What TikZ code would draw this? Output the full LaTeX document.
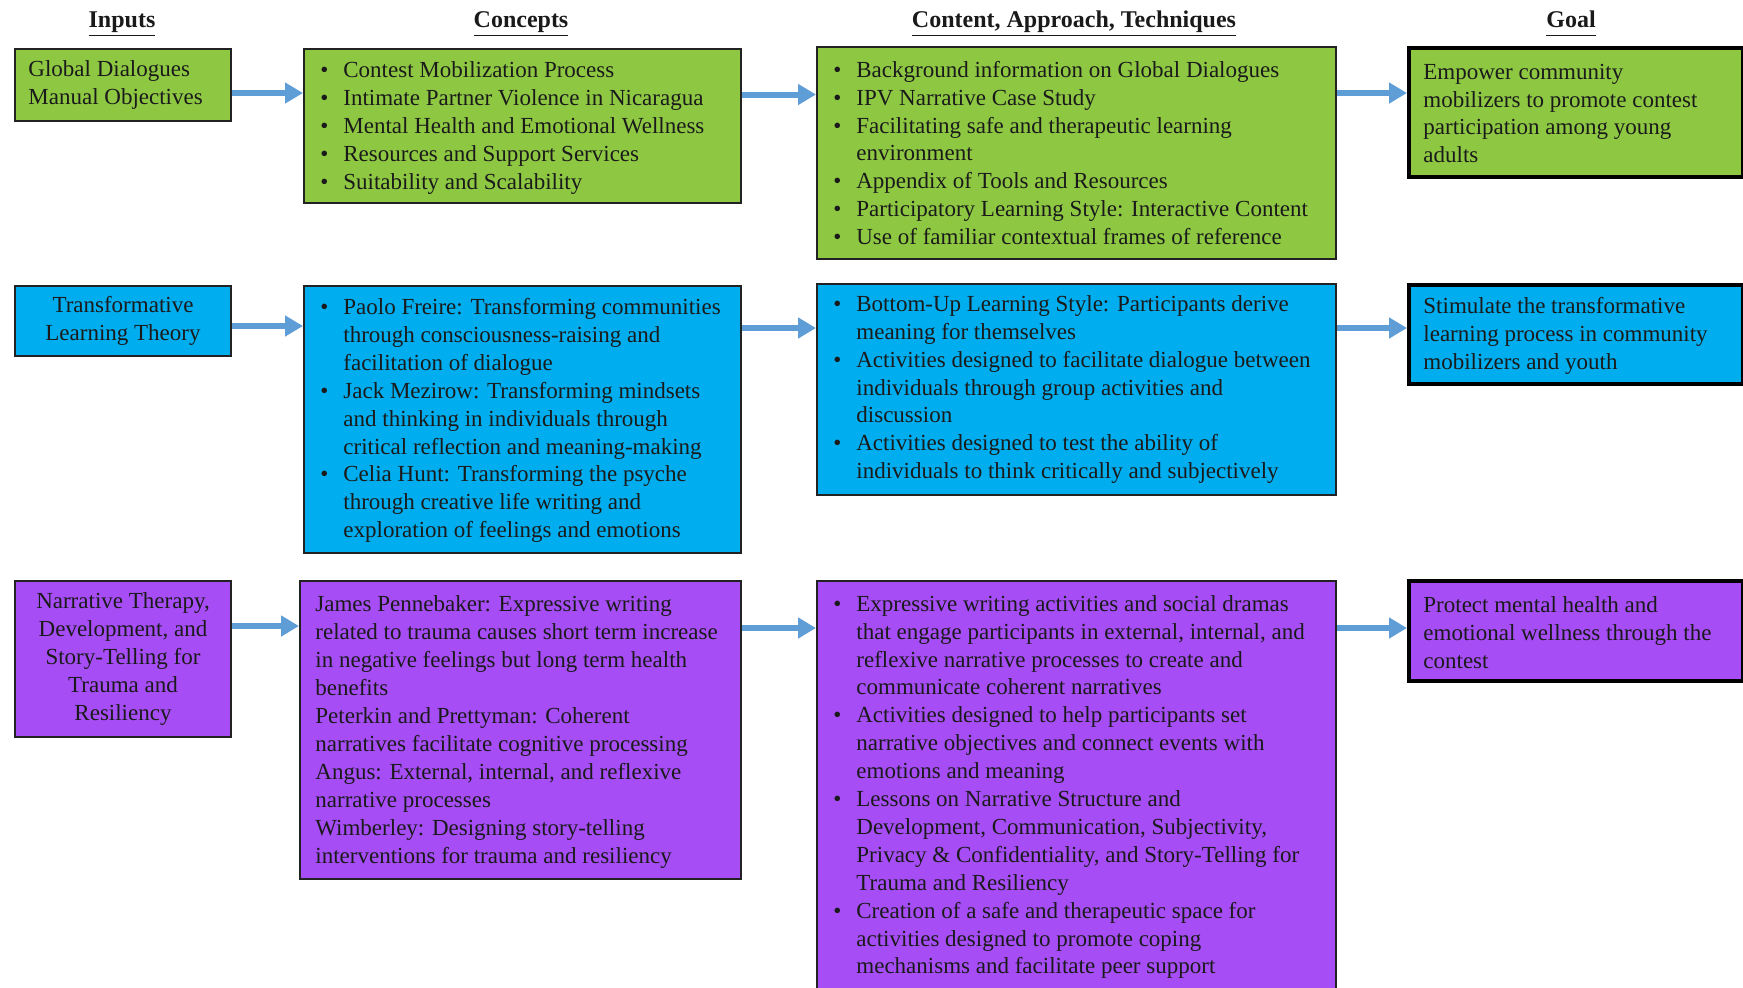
\documentclass[tikz,border=0pt]{standalone}
\usepackage{fontspec}
\setmainfont{Liberation Serif}
\usetikzlibrary{arrows.meta}
\definecolor{gfill}{HTML}{8EC843}
\definecolor{bfill}{HTML}{00ADEF}
\definecolor{pfill}{HTML}{A64DF6}
\definecolor{arrc}{HTML}{5F9DD6}
\definecolor{bordc}{HTML}{222222}
\definecolor{txtc}{HTML}{1A1A1A}
\newcommand\fs{\fontsize{11.5}{13.95}\selectfont}
\newcommand\bl{\makebox[11.5pt][l]{\textbullet}}
\newcommand\ind{\hspace*{11.5pt}}
\newcommand\hul[1]{\underline{#1\vphantom{gp}}}
\tikzset{
  box/.style={draw=bordc, line width=1pt, anchor=north west, inner sep=0pt},
  goalbox/.style={box, draw=black, line width=2pt},
  txt/.style={anchor=west, align=left, inner sep=0pt, font=\fs, text=txtc},
  ctxt/.style={anchor=center, align=center, inner sep=0pt, font=\fs, text=txtc},
  head/.style={inner sep=0pt, anchor=base, font=\fontsize{12}{14}\selectfont\bfseries, text=txtc},
  arr/.style={draw=arrc, line width=3pt, -{Triangle[length=9pt,width=10pt]}}
}
\begin{document}
\begin{tikzpicture}[x=0.5pt,y=-0.5pt]
\useasboundingbox (0,0) rectangle (1743,987);
\clip (0,0) rectangle (1743,987);
% headers
\node[head] (h1) at (122,27) {\hul{Inputs}};
\node[head] (h2) at (521,27) {\hul{Concepts}};
\node[head] (h3) at (1074,27) {\hul{Content, Approach, Techniques}};
\node[head] (h4) at (1571,27) {\hul{Goal}};
% row 1
\node[box, fill=gfill, minimum width=108pt, minimum height=36pt] (in1) at (14,48) {};
\node[txt] (in1t) at ([xshift=7pt]in1.west) {Global Dialogues\\Manual Objectives};
\node[box, fill=gfill, minimum width=218.5pt, minimum height=77pt] (con1) at (303,48) {};
\node[txt] (con1t) at ([xshift=8.5pt,yshift=-1pt]con1.west) {\bl Contest Mobilization Process\\
\bl Intimate Partner Violence in Nicaragua\\
\bl Mental Health and Emotional Wellness\\
\bl Resources and Support Services\\
\bl Suitability and Scalability};
\node[box, fill=gfill, minimum width=259.5pt, minimum height=106pt] (cnt1) at (816,46) {};
\node[txt] (cnt1t) at ([xshift=8.5pt]cnt1.west) {\bl Background information on Global Dialogues\\
\bl IPV Narrative Case Study\\
\bl Facilitating safe and therapeutic learning\\
\ind environment\\
\bl Appendix of Tools and Resources\\
\bl Participatory Learning Style: Interactive Content\\
\bl Use of familiar contextual frames of reference};
\node[goalbox, fill=gfill, minimum width=167pt, minimum height=64.5pt] (goal1) at (1407,46) {};
\node[txt] (goal1t) at ([xshift=8pt,yshift=-0.5pt]goal1.west) {Empower community\\
mobilizers to promote contest\\
participation among young\\
adults};
% row 2
\node[box, fill=bfill, minimum width=108pt, minimum height=35pt] (in2) at (14,285) {};
\node[ctxt] (in2t) at (in2.center) {Transformative\\Learning Theory};
\node[box, fill=bfill, minimum width=218.5pt, minimum height=133.5pt] (con2) at (303,285) {};
\node[txt] (con2t) at ([xshift=8.5pt,yshift=-0.5pt]con2.west) {\bl Paolo Freire: Transforming communities\\
\ind through consciousness-raising and\\
\ind facilitation of dialogue\\
\bl Jack Mezirow: Transforming mindsets\\
\ind and thinking in individuals through\\
\ind critical reflection and meaning-making\\
\bl Celia Hunt: Transforming the psyche\\
\ind through creative life writing and\\
\ind exploration of feelings and emotions};
\node[box, fill=bfill, minimum width=259.5pt, minimum height=105.5pt] (cnt2) at (816,283) {};
\node[txt] (cnt2t) at ([xshift=8.5pt]cnt2.west) {\bl Bottom-Up Learning Style: Participants derive\\
\ind meaning for themselves\\
\bl Activities designed to facilitate dialogue between\\
\ind individuals through group activities and\\
\ind discussion\\
\bl Activities designed to test the ability of\\
\ind individuals to think critically and subjectively};
\node[goalbox, fill=bfill, minimum width=167pt, minimum height=49.5pt] (goal2) at (1407,283) {};
\node[txt] (goal2t) at ([xshift=8pt,yshift=-0.8pt]goal2.west) {Stimulate the transformative\\
learning process in community\\
mobilizers and youth};
% row 3
\node[box, fill=pfill, minimum width=108pt, minimum height=78pt] (in3) at (14,580) {};
\node[ctxt] (in3t) at (in3.center) {Narrative Therapy,\\Development, and\\Story-Telling for\\Trauma and\\Resiliency};
\node[box, fill=pfill, minimum width=220.5pt, minimum height=149pt] (con3) at (299,580) {};
\node[txt] (con3t) at ([xshift=8pt,yshift=-1pt]con3.west) {James Pennebaker: Expressive writing\\
related to trauma causes short term increase\\
in negative feelings but long term health\\
benefits\\
Peterkin and Prettyman: Coherent\\
narratives facilitate cognitive processing\\
Angus: External, internal, and reflexive\\
narrative processes\\
Wimberley: Designing story-telling\\
interventions for trauma and resiliency};
\node[box, fill=pfill, minimum width=259.5pt, minimum height=205pt] (cnt3) at (816,580) {};
\node[txt] (cnt3t) at ([xshift=8.5pt,yshift=-0.5pt]cnt3.west) {\bl Expressive writing activities and social dramas\\
\ind that engage participants in external, internal, and\\
\ind reflexive narrative processes to create and\\
\ind communicate coherent narratives\\
\bl Activities designed to help participants set\\
\ind narrative objectives and connect events with\\
\ind emotions and meaning\\
\bl Lessons on Narrative Structure and\\
\ind Development, Communication, Subjectivity,\\
\ind Privacy \& Confidentiality, and Story-Telling for\\
\ind Trauma and Resiliency\\
\bl Creation of a safe and therapeutic space for\\
\ind activities designed to promote coping\\
\ind mechanisms and facilitate peer support};
\node[goalbox, fill=pfill, minimum width=167pt, minimum height=50pt] (goal3) at (1407,579) {};
\node[txt] (goal3t) at ([xshift=8pt,yshift=-0.8pt]goal3.west) {Protect mental health and\\
emotional wellness through the\\
contest};
% arrow heights
\coordinate (a11) at (0,93);
\coordinate (a12) at (0,94.5);
\coordinate (a21) at (0,326);
\coordinate (a22) at (0,328);
\coordinate (a31) at (0,626);
\coordinate (a32) at (0,628);
% arrows
\draw[arr] (in1.east |- a11) -- (con1.west |- a11);
\draw[arr] (con1.east |- a12) -- (cnt1.west |- a12);
\draw[arr] (cnt1.east |- a11) -- (goal1.west |- a11);
\draw[arr] (in2.east |- a21) -- (con2.west |- a21);
\draw[arr] (con2.east |- a22) -- (cnt2.west |- a22);
\draw[arr] (cnt2.east |- a22) -- (goal2.west |- a22);
\draw[arr] (in3.east |- a31) -- (con3.west |- a31);
\draw[arr] (con3.east |- a32) -- (cnt3.west |- a32);
\draw[arr] (cnt3.east |- a32) -- (goal3.west |- a32);
\end{tikzpicture}
\end{document}
